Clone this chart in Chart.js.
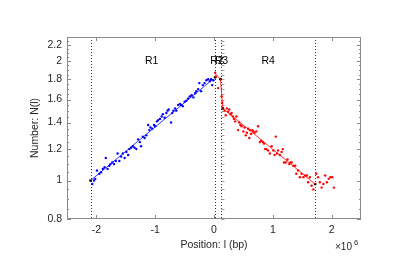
<!DOCTYPE html>
<html><head><meta charset="utf-8">
<script src="https://cdn.jsdelivr.net/npm/chart.js@4/dist/chart.umd.min.js"></script>
<style>html,body{margin:0;padding:0;background:#fff}canvas{display:block}</style>
</head><body>
<canvas id="c" width="415" height="271"></canvas>
<script>
// positions in units of 10^6 bp
const blueX = [-2.07,-2.04,-2.02,-1.99,-1.95,-1.92,-1.89,-1.86,-1.84,-1.81,-1.78,-1.76,-1.73,-1.70,-1.67,-1.64,-1.61,-1.58,-1.55,-1.52,-1.49,-1.46,-1.44,-1.41,-1.38,-1.35,-1.32,-1.29,-1.26,-1.24,-1.21,-1.18,-1.15,-1.12,-1.10,-1.08,-1.05,-1.02,-1.00,-0.97,-0.95,-0.92,-0.89,-0.87,-0.84,-0.81,-0.79,-0.77,-0.73,-0.71,-0.69,-0.66,-0.64,-0.61,-0.58,-0.56,-0.53,-0.50,-0.47,-0.44,-0.41,-0.38,-0.35,-0.32,-0.30,-0.27,-0.25,-0.22,-0.19,-0.16,-0.13,-0.10,-0.07,-0.05,-0.03,-0.01];
const blueY = [0.98,1.00,1.01,1.06,1.04,1.05,1.07,1.08,1.14,1.07,1.09,1.10,1.11,1.10,1.12,1.17,1.12,1.15,1.17,1.14,1.18,1.16,1.20,1.21,1.22,1.21,1.20,1.27,1.25,1.22,1.29,1.28,1.30,1.38,1.34,1.36,1.35,1.38,1.37,1.41,1.42,1.43,1.45,1.47,1.44,1.48,1.50,1.51,1.40,1.48,1.50,1.52,1.50,1.55,1.56,1.55,1.54,1.58,1.59,1.61,1.63,1.64,1.62,1.66,1.68,1.70,1.76,1.68,1.74,1.76,1.79,1.80,1.78,1.80,1.74,1.79];
const redX = [0.02,0.03,0.07,0.13,0.14,0.18,0.20,0.22,0.24,0.26,0.28,0.30,0.32,0.34,0.36,0.38,0.41,0.43,0.45,0.47,0.50,0.52,0.54,0.56,0.58,0.60,0.61,0.63,0.65,0.67,0.69,0.72,0.75,0.78,0.80,0.83,0.85,0.87,0.89,0.92,0.95,0.98,1.01,1.03,1.05,1.07,1.09,1.12,1.15,1.17,1.19,1.22,1.25,1.28,1.30,1.32,1.35,1.38,1.40,1.43,1.46,1.49,1.52,1.55,1.58,1.60,1.63,1.66,1.69,1.74,1.77,1.80,1.83,1.86,1.89,1.92,1.95,1.98,2.01,2.04];
const redY = [1.87,1.83,1.71,1.63,1.57,1.50,1.46,1.52,1.49,1.51,1.47,1.48,1.45,1.43,1.41,1.45,1.34,1.40,1.38,1.37,1.33,1.36,1.30,1.32,1.35,1.28,1.34,1.31,1.34,1.33,1.32,1.33,1.37,1.25,1.26,1.25,1.24,1.20,1.20,1.19,1.17,1.22,1.19,1.16,1.29,1.17,1.19,1.16,1.18,1.20,1.11,1.11,1.13,1.10,1.11,1.11,1.09,1.09,1.04,1.06,1.02,1.04,1.02,1.03,1.03,0.99,1.02,0.97,0.95,1.04,1.02,0.99,0.96,0.98,1.03,0.99,1.01,1.02,1.02,0.96];
const blueFitX = [-2.1, -0.02];
const blueFitY = [1.0, 1.80];
const redFitX = [0.02, 0.11, 0.15, 1.72];
const redFitY = [1.86, 1.80, 1.52, 0.98];
const breakX = [-2.1, 0.02, 0.11, 0.15, 1.72];
const breakY = [1.0, 1.82, 1.80, 1.52, 0.98];
const boundaryX = [-2.1, 0.02, 0.115, 1.72];
const regionNames = ['R1', 'R2', 'R3', 'R4'];
const regionLabelX = [-1.06, 0.05, 0.125, 0.92];
const regionLabelY = 2.0;
const xTickValues = [-2, -1, 0, 1, 2];
const yTickValues = [0.8, 1, 1.2, 1.4, 1.6, 1.8, 2, 2.2];
const yMinorValues = [0.85,0.9,0.95,1.05,1.1,1.15,1.25,1.3,1.35,1.45,1.5,1.55,1.65,1.7,1.75,1.85,1.9,1.95,2.05,2.1,2.15,2.25];

const pts = (xs, ys) => xs.map((x, i) => ({x, y: ys[i]}));
const FONT = '"Liberation Sans", Arial, sans-serif';
const TXT = '#262626';
const AX = '#8a8a8a';

const deco = {
  id: 'deco',
  beforeDatasetsDraw(chart) {
    const {ctx, chartArea: a, scales: {x, y}} = chart;
    ctx.save();
    ctx.strokeStyle = '#000';
    ctx.lineWidth = 0.8;
    ctx.setLineDash([1, 2]);
    boundaryX.forEach(v => {
      const px = Math.round(x.getPixelForValue(v)) + 0.5;
      ctx.beginPath(); ctx.moveTo(px, a.top); ctx.lineTo(px, a.bottom); ctx.stroke();
    });
    ctx.setLineDash([]);
    // small ladder ticks next to the R3 boundary
    ctx.strokeStyle = AX;
    const bx = Math.round(x.getPixelForValue(boundaryX[2])) + 0.5;
    yMinorValues.concat(yTickValues).forEach(v => {
      const py = Math.round(y.getPixelForValue(v)) + 0.5;
      ctx.beginPath(); ctx.moveTo(bx, py); ctx.lineTo(bx + 3, py); ctx.stroke();
    });
    ctx.restore();
  },
  afterDatasetsDraw(chart) {
    const {ctx, chartArea: a, scales: {x, y}} = chart;
    ctx.save();
    ctx.strokeStyle = AX;
    ctx.lineWidth = 1;
    ctx.strokeRect(a.left + 0.5, a.top + 0.5, a.right - a.left - 1, a.bottom - a.top - 1);
    ctx.beginPath();
    yTickValues.forEach(v => {
      const py = Math.round(y.getPixelForValue(v)) + 0.5;
      ctx.moveTo(a.left, py); ctx.lineTo(a.left + 4, py);
      ctx.moveTo(a.right, py); ctx.lineTo(a.right - 4, py);
    });
    yMinorValues.forEach(v => {
      const py = Math.round(y.getPixelForValue(v)) + 0.5;
      ctx.moveTo(a.left, py); ctx.lineTo(a.left + 2, py);
      ctx.moveTo(a.right, py); ctx.lineTo(a.right - 2, py);
    });
    xTickValues.forEach(v => {
      const px = Math.round(x.getPixelForValue(v)) + 0.5;
      ctx.moveTo(px, a.bottom); ctx.lineTo(px, a.bottom - 4);
      ctx.moveTo(px, a.top); ctx.lineTo(px, a.top + 4);
    });
    ctx.stroke();
    ctx.fillStyle = '#000';
    ctx.font = '10.5px ' + FONT;
    ctx.textAlign = 'center';
    ctx.textBaseline = 'middle';
    regionNames.forEach((n, i) => {
      ctx.fillText(n, x.getPixelForValue(regionLabelX[i]), y.getPixelForValue(regionLabelY));
    });
    ctx.fillStyle = TXT;
    ctx.textAlign = 'left';
    ctx.textBaseline = 'alphabetic';
    ctx.font = '10px ' + FONT;
    ctx.fillText('\u00d710', 335, 250);
    ctx.font = '7.5px ' + FONT;
    ctx.fillText('6', 354, 245);
    ctx.restore();
  }
};

new Chart(document.getElementById('c'), {
  type: 'scatter',
  data: {
    datasets: [
      {data: pts(blueX, blueY), backgroundColor: '#0000ff', borderColor: '#0000ff', pointRadius: 1.2, pointBorderWidth: 0},
      {data: pts(redX, redY), backgroundColor: '#ff0000', borderColor: '#ff0000', pointRadius: 1.2, pointBorderWidth: 0},
      {data: pts(blueFitX, blueFitY), showLine: true, borderColor: '#0000ff', borderWidth: 0.8, pointRadius: 0},
      {data: pts(redFitX, redFitY), showLine: true, borderColor: '#ff0000', borderWidth: 0.8, pointRadius: 0},
      {data: pts(breakX, breakY), backgroundColor: '#000', borderColor: '#000', pointRadius: 1.4, pointBorderWidth: 0}
    ]
  },
  options: {
    responsive: false,
    animation: false,
    events: [],
    layout: {padding: {left: 0, top: 37, right: 54, bottom: 0}},
    plugins: {legend: {display: false}, tooltip: {enabled: false}},
    scales: {
      x: {
        type: 'linear', min: -2.5, max: 2.5,
        afterBuildTicks: s => { s.ticks = xTickValues.map(v => ({value: v})); },
        afterFit: s => { s.height = 52; },
        grid: {display: false, drawTicks: false},
        border: {display: false},
        ticks: {padding: 5, color: TXT, font: {family: FONT, size: 10.5}, callback: v => String(v), maxRotation: 0},
        title: {display: true, text: 'Position: l (bp)', color: TXT, font: {family: FONT, size: 10.5}, padding: {top: 0, bottom: 20}}
      },
      y: {
        type: 'logarithmic', min: 0.8, max: 2.3,
        afterBuildTicks: s => { s.ticks = yTickValues.map(v => ({value: v})); },
        afterFit: s => { s.width = 67; },
        grid: {display: false, drawTicks: false},
        border: {display: false},
        ticks: {padding: 5, color: TXT, font: {family: FONT, size: 10.5}, callback: v => String(v)},
        title: {display: true, text: 'Number: N(l)', color: TXT, font: {family: FONT, size: 10.5}, padding: {top: 29, bottom: 0}}
      }
    }
  },
  plugins: [deco]
});
</script>
</body></html>
